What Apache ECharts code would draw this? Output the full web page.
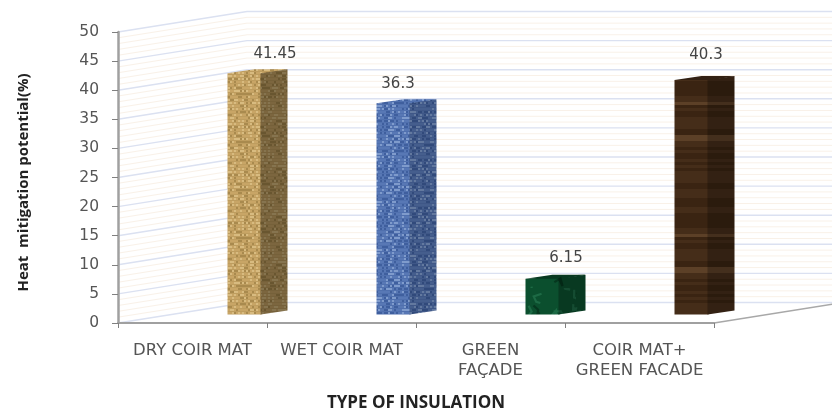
<!DOCTYPE html>
<html>
<head>
<meta charset="utf-8">
<style>html,body{margin:0;padding:0;background:#fff}#chart{width:832px;height:412px}</style>
<script src="https://cdn.jsdelivr.net/npm/echarts@6/dist/echarts.min.js"></script>
</head>
<body>
<div id="chart"></div>
<script>
// Heat mitigation potential by type of insulation
const categories = ['DRY COIR MAT', 'WET COIR MAT', 'GREEN\nFAÇADE', 'COIR MAT+\nGREEN FACADE'];
const mitigation = [41.45, 36.3, 6.15, 40.3];
const wallLevels = [];
for (let v = 0; v <= 50; v += 1) wallLevels.push(v);

// Oblique projection of the chart box
const DEPTH_X = 129, DEPTH_Y = -20.5;
const BAR_SHIFT_X = 51.5, BAR_SHIFT_Y = -8.5;
const FRONT_W = 33, SIDE_W = 27, SIDE_RISE = 4;
// Value labels sit off-centre above the columns
const labelNudge = [[31, -20], [5, -20], [24, -21], [15, -25]];

// Small seeded generator so that the surface textures stay the same on each load
function seeded(seed) {
  let s = seed;
  return function () { s = (s * 16807) % 2147483647; return s / 2147483647; };
}
function makeCanvas(w, h) {
  const c = document.createElement('canvas');
  c.width = w; c.height = h;
  return c;
}
function shade(hex, k) {
  const n = parseInt(hex.slice(1), 16);
  const f = x => Math.max(0, Math.min(255, Math.round(x * k)));
  return `rgb(${f(n >> 16)},${f((n >> 8) & 255)},${f(n & 255)})`;
}
function weave(base, dark, light, k, seed) {
  const c = makeCanvas(48, 48), g = c.getContext('2d'), r = seeded(seed);
  g.fillStyle = shade(base, k); g.fillRect(0, 0, 48, 48);
  for (let y = 0; y < 48; y += 3) {
    for (let x = 0; x < 48; x += 2) {
      const t = r();
      g.fillStyle = shade(t < 0.3 ? dark : t > 0.75 ? light : base, k);
      g.fillRect(x, y, 2, 2);
    }
    g.fillStyle = shade(dark, k);
    g.globalAlpha = 0.3;
    g.fillRect(0, y + 2, 48, 1);
    g.globalAlpha = 1;
  }
  return { image: c, repeat: 'repeat' };
}
function marble(k) {
  const c = makeCanvas(64, 48), g = c.getContext('2d'), r = seeded(77);
  g.fillStyle = shade('#0b4f2e', k); g.fillRect(0, 0, 64, 48);
  g.lineWidth = 2.2;
  for (let i = 0; i < 14; i++) {
    g.strokeStyle = i % 3 ? shade('#1d6a45', k) : shade('#06371f', k);
    g.beginPath();
    let x = r() * 64, y = r() * 48;
    g.moveTo(x, y);
    for (let j = 0; j < 3; j++) { x += r() * 16 - 8; y += r() * 16 - 8; g.lineTo(x, y); }
    g.stroke();
  }
  return { image: c, repeat: 'repeat' };
}
function wood(k) {
  const c = makeCanvas(32, 132), g = c.getContext('2d'), r = seeded(311);
  g.fillStyle = shade('#3f2815', k); g.fillRect(0, 0, 32, 132);
  for (let y = 0; y < 132; y += 3) {
    const t = r();
    g.fillStyle = shade(t > 0.88 ? '#5c4027' : t > 0.5 ? '#452d19' : '#3a2412', k);
    g.fillRect(0, y, 32, 3);
  }
  return { image: c, repeat: 'repeat' };
}
const textures = [
  { front: weave('#c8a566', '#a98a4e', '#d8bb80', 1, 11), side: weave('#c8a566', '#a98a4e', '#d8bb80', 0.62, 23) },
  { front: weave('#5878b5', '#3f5f9e', '#7f9bcc', 1, 37), side: weave('#5878b5', '#3f5f9e', '#7f9bcc', 0.78, 41) },
  { front: marble(1), side: marble(0.72) },
  { front: wood(1), side: wood(0.74) }
];
textures[0].top = textures[0].front;
textures[1].top = textures[1].front;
textures[2].top = textures[2].side;
textures[3].top = textures[3].side;

// Back wall, side wall and floor edge: one line per wall level
function renderWall(params, api) {
  const level = api.value(1);
  const box = params.coordSys;
  const left = box.x, right = box.x + box.width;
  const y = api.coord([0, level])[1];
  const major = level % 5 === 0;
  const stroke = major ? '#dbe1f1' : '#f9f1e8';
  const lineWidth = major ? 1.4 : 1;
  const children = [
    { type: 'polyline', shape: { points: [[left, y], [left + DEPTH_X, y + DEPTH_Y], [right + DEPTH_X, y + DEPTH_Y]] },
      style: { fill: null, stroke, lineWidth } }
  ];
  if (level === 0) {
    children.push({ type: 'line', shape: { x1: right, y1: y, x2: right + DEPTH_X, y2: y + DEPTH_Y },
      style: { stroke: '#a8a8a8', lineWidth: 1.5 } });
  }
  return { type: 'group', silent: true, children };
}

// Columns: front face, side face, top face and value label
function renderColumn(params, api) {
  const i = api.value(0), value = api.value(1);
  const top = api.coord([i, value]);
  const base = api.coord([i, 0]);
  const x0 = top[0] + BAR_SHIFT_X - FRONT_W / 2, x1 = x0 + FRONT_W, x2 = x1 + SIDE_W;
  const yTop = top[1] + BAR_SHIFT_Y, yBase = base[1] + BAR_SHIFT_Y;
  const tex = textures[i];
  const nudge = labelNudge[i];
  return {
    type: 'group',
    children: [
      { type: 'polygon', shape: { points: [[x0 + SIDE_W - 1, yTop - SIDE_RISE + 1], [x2, yTop - SIDE_RISE], [x1, yTop + 1], [x0, yTop + 1]] }, style: { fill: tex.top } },
      { type: 'polygon', shape: { points: [[x0, yTop], [x0 + SIDE_W, yTop - SIDE_RISE], [x2, yTop - SIDE_RISE], [x1, yTop]] }, style: { fill: tex.top } },
      { type: 'polygon', shape: { points: [[x0, yTop], [x1 + 1, yTop], [x1 + 1, yBase], [x0, yBase]] }, style: { fill: tex.front } },
      { type: 'polygon', shape: { points: [[x1, yTop], [x2, yTop - SIDE_RISE], [x2, yBase - SIDE_RISE], [x1, yBase]] }, style: { fill: tex.side } },
      { type: 'text', style: { text: String(value), x: top[0] + BAR_SHIFT_X + nudge[0], y: top[1] + BAR_SHIFT_Y + nudge[1] + 0.5,
          align: 'center', verticalAlign: 'middle', fill: '#444', font: '15px "DejaVu Sans"' } }
    ]
  };
}

const chart = echarts.init(document.getElementById('chart'), null, { renderer: 'canvas' });
chart.setOption({
  animation: false,
  backgroundColor: '#fff',
  grid: { left: 118, top: 32, width: 596, height: 291, outerBoundsMode: 'none' },
  xAxis: {
    type: 'category',
    data: categories,
    z: 5,
    axisLine: { lineStyle: { color: '#a0a0a0', width: 2 } },
    axisTick: { show: true, length: 5, lineStyle: { color: '#808080' } },
    axisLabel: { color: '#555', fontFamily: 'DejaVu Sans', fontSize: 16.5, lineHeight: 20, margin: 18, interval: 0, hideOverlap: false },
    name: 'TYPE OF INSULATION',
    nameLocation: 'middle',
    nameGap: 72,
    nameTextStyle: { color: '#222', fontFamily: 'Open Sans', fontWeight: 'bold', fontSize: 17 }
  },
  yAxis: {
    type: 'value',
    min: 0, max: 50, interval: 5,
    z: 5,
    splitLine: { show: false },
    axisLine: { show: true, lineStyle: { color: '#a0a0a0', width: 2.5 } },
    axisTick: { show: true, length: 6, lineStyle: { color: '#808080' } },
    axisLabel: { color: '#555', fontFamily: 'DejaVu Sans', fontSize: 15.5, margin: 19 },
    name: 'Heat  mitigation potential(%)',
    nameLocation: 'middle',
    nameGap: 87,
    nameTextStyle: { color: '#222', fontFamily: 'Open Sans', fontWeight: 'bold', fontSize: 15, padding: [0, 0, 0, -10] }
  },
  series: [
    { type: 'custom', coordinateSystem: 'cartesian2d', z: 1, silent: true, renderItem: renderWall,
      data: wallLevels.map(v => [0, v]), encode: { x: 0, y: 1 } },
    { type: 'custom', coordinateSystem: 'cartesian2d', z: 3, silent: true, renderItem: renderColumn,
      data: mitigation.map((v, i) => [i, v]), encode: { x: 0, y: 1 } }
  ]
});
</script>
</body>
</html>
